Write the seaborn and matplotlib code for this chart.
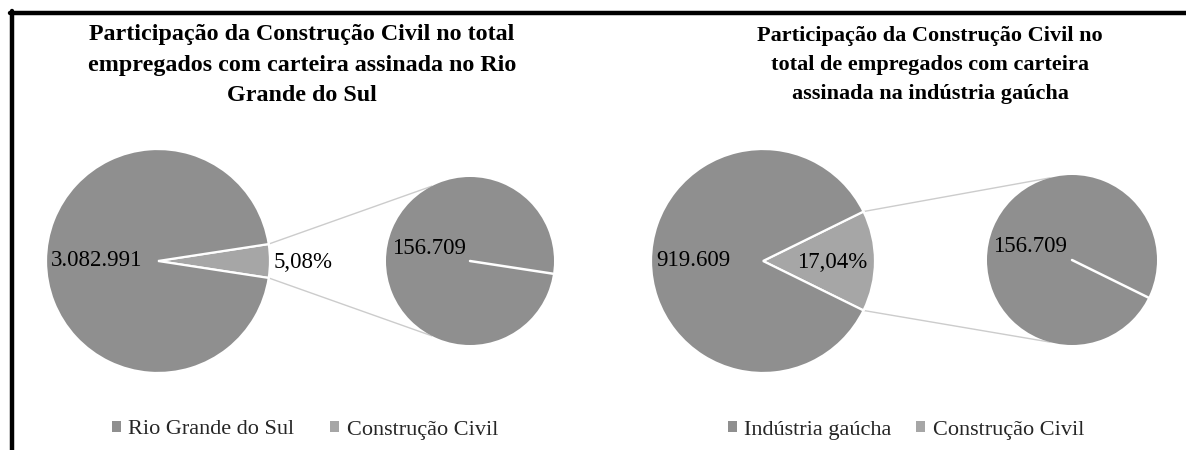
import numpy as np
import matplotlib
matplotlib.use("Agg")
import matplotlib.pyplot as plt
from matplotlib.patches import Patch
from matplotlib.lines import Line2D
import seaborn as sns

# ---------------- data ----------------
titles = [
    "Participação da Construção Civil no total\nempregados com carteira assinada no Rio\nGrande do Sul",
    "Participação da Construção Civil no\ntotal de empregados com carteira\nassinada na indústria gaúcha",
]
main_labels = ["Rio Grande do Sul", "Indústria gaúcha"]
sub_label = "Construção Civil"
main_values = [3082991, 919609]
construction_values = [156709, 156709]

# ---------------- style ----------------
sns.set_theme(style="white")
plt.rcParams["font.family"] = ["Liberation Serif", "DejaVu Serif"]

MAIN_COLOR = "#8f8f8f"
PART_COLOR = "#a6a6a6"
SUB_COLOR = "#8f8f8f"
CONN_COLOR = "#cccccc"

W, H = 1186, 450
fig = plt.figure(figsize=(W / 100, H / 100), dpi=100)
ax = fig.add_axes([0, 0, 1, 1])


def fmt_int(v):
    return f"{v:,}".replace(",", ".")


def fmt_pct(p):
    return f"{p:.2f}".replace(".", ",") + "%"


# layout (pixel coordinates, y measured from top)
layout = [
    dict(title_x=302, title_y=65, title_fs=17.3, big=(158, 261), r_big=112,
         small=(470, 261), r_small=84, conn_angle=117, pct_pos=(274, 262),
         pct_ha="left", legend_x=305, colsp=1.6),
    dict(title_x=930, title_y=65, title_fs=16.0, big=(763, 261), r_big=112,
         small=(1072, 260), r_small=85, conn_angle=105, pct_pos=(832, 262),
         pct_ha="center", legend_x=906, colsp=1.1),
]


def P(x, y):
    return x, H - y


for i, L in enumerate(layout):
    main_v = main_values[i]
    cons_v = construction_values[i]
    frac = cons_v / (main_v + cons_v)
    theta_c = 360 * frac
    cx, cy = P(*L["big"])
    sx, sy = P(*L["small"])

    # main pie: construction wedge centred on the right side
    ax.pie([cons_v, main_v], colors=[PART_COLOR, MAIN_COLOR],
           startangle=-theta_c / 2, center=(cx, cy), radius=L["r_big"],
           wedgeprops=dict(edgecolor="white", linewidth=1.6), frame=False)

    # secondary pie: the single construction item
    ax.pie([cons_v], colors=[SUB_COLOR], startangle=-theta_c / 2,
           center=(sx, sy), radius=L["r_small"],
           wedgeprops=dict(edgecolor="none"), frame=False)
    half = np.deg2rad(theta_c / 2)
    # slice border of the secondary pie
    ax.add_line(Line2D([sx, sx + L["r_small"] * np.cos(-half)],
                       [sy, sy + L["r_small"] * np.sin(-half)],
                       color="white", lw=1.8, zorder=5))

    # connector lines
    a = np.deg2rad(L["conn_angle"])
    for s in (1, -1):
        x0 = cx + L["r_big"] * np.cos(half)
        y0 = cy + s * L["r_big"] * np.sin(half)
        x1 = sx + L["r_small"] * np.cos(a)
        y1 = sy + s * L["r_small"] * np.sin(a)
        ax.add_line(Line2D([x0, x1], [y0, y1], color=CONN_COLOR, lw=1.0, zorder=0))

    # data labels
    ax.text(cx - L["r_big"] + 5, cy, fmt_int(main_v), ha="left", va="center",
            fontsize=16.5, color="black")
    px, py = P(*L["pct_pos"])
    ax.text(px, py, fmt_pct(100 * cons_v / main_v), ha=L["pct_ha"], va="center",
            fontsize=16.5, color="black")
    ax.text(sx - L["r_small"] + 6, sy + 13, fmt_int(cons_v), ha="left", va="center",
            fontsize=16.5, color="black")

    # title
    tx, ty = P(L["title_x"], L["title_y"])
    ax.text(tx, ty, titles[i], ha="center", va="center", fontsize=L["title_fs"],
            fontweight="bold", linespacing=1.58, color="black")

    # legend
    handles = [Patch(facecolor=MAIN_COLOR, edgecolor="none", label=main_labels[i]),
               Patch(facecolor=PART_COLOR, edgecolor="none", label=sub_label)]
    fig.legend(handles=handles, loc="center",
               bbox_to_anchor=(L["legend_x"] / W, 1 - 430 / H), ncol=2,
               frameon=False, fontsize=16, handlelength=0.4,
               handleheight=0.4, handletextpad=0.35, columnspacing=L["colsp"],
               borderpad=0.2)

ax.set_xlim(0, W)
ax.set_ylim(0, H)
ax.set_aspect("equal", adjustable="box")
ax.axis("off")

# frame lines (top and left)
fig.add_artist(Line2D([10 / W, 1], [1 - 13 / H, 1 - 13 / H], color="black", lw=3.2,
                      transform=fig.transFigure))
fig.add_artist(Line2D([12 / W, 12 / W], [0, 1 - 11 / H], color="black", lw=3.2,
                      transform=fig.transFigure))

fig.savefig("out.png", dpi=100, facecolor="white")
